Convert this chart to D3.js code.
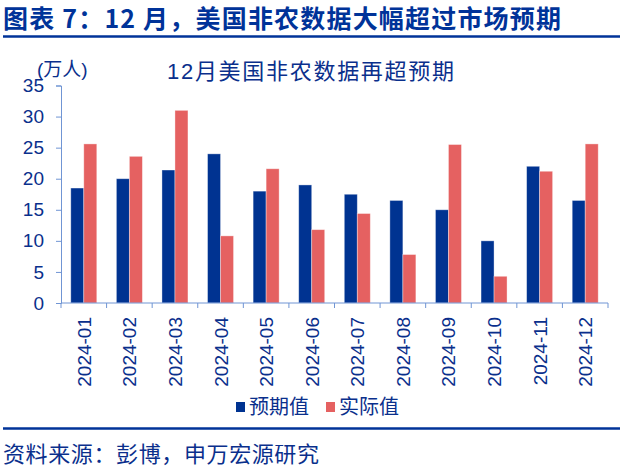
<!DOCTYPE html>
<html>
<head>
<meta charset="utf-8">
<script src="https://cdn.jsdelivr.net/npm/d3@7"></script>
<style>
  html, body { margin: 0; padding: 0; background: #fff; }
  svg { display: block; font-family: "Liberation Sans", "Noto Sans CJK SC", sans-serif; }
</style>
</head>
<body>
<svg id="chart"></svg>
<script>
// Data
const months = ["2024-01", "2024-02", "2024-03", "2024-04", "2024-05", "2024-06",
                "2024-07", "2024-08", "2024-09", "2024-10", "2024-11", "2024-12"];
const expected = [18.5, 20.0, 21.4, 24.0, 18.0, 19.0, 17.5, 16.5, 15.0, 10.0, 22.0, 16.5];
const actual = [25.6, 23.6, 31.0, 10.8, 21.6, 11.8, 14.4, 7.8, 25.5, 4.3, 21.2, 25.6];
const seriesNames = ["预期值", "实际值"];
const seriesColors = ["#003391", "#e56161"];
const yTicks = [0, 5, 10, 15, 20, 25, 30, 35];

const width = 620, height = 468;
const textBlue = "#0a2f8c";
const axisColor = "#7095d4";

const svg = d3.select("#chart")
  .attr("width", width)
  .attr("height", height);

// Header
svg.append("text")
  .attr("x", 3)
  .attr("y", 28)
  .attr("fill", "#003399")
  .attr("font-size", "25px")
  .attr("font-weight", "bold")
  .attr("font-family", "'Noto Sans CJK SC', 'Liberation Sans', sans-serif")
  .attr("textLength", 558)
  .attr("lengthAdjust", "spacing")
  .text("图表 7：12 月，美国非农数据大幅超过市场预期");

svg.append("line")
  .attr("x1", 3).attr("x2", width)
  .attr("y1", 36.5).attr("y2", 36.5)
  .attr("stroke", "#003399")
  .attr("stroke-width", 2.5);

// Scales
const x0 = d3.scaleBand()
  .domain(months)
  .range([61, 608]);

const groupW = 26;
const x1 = d3.scaleBand()
  .domain(seriesNames)
  .range([(x0.bandwidth() - groupW) / 2, (x0.bandwidth() + groupW) / 2]);

const y = d3.scaleLinear()
  .domain([0, 35])
  .range([303, 85.5]);

// Y axis
const yAxis = svg.append("g")
  .attr("transform", "translate(61,0)")
  .call(d3.axisLeft(y).tickValues(yTicks).tickSize(5).tickPadding(12));
yAxis.select(".domain").attr("stroke", axisColor);
yAxis.selectAll(".tick line").attr("stroke", axisColor);
yAxis.selectAll(".tick text")
  .attr("fill", textBlue)
  .attr("font-size", "19px")
  .attr("font-family", "'Liberation Sans', sans-serif");

// Bars
const data = months.map((m, i) => ({ month: m, values: [expected[i], actual[i]] }));

const groups = svg.append("g")
  .selectAll("g")
  .data(data)
  .join("g")
  .attr("transform", d => `translate(${x0(d.month)},0)`);

groups.selectAll("rect")
  .data(d => d.values.map((v, j) => ({ key: seriesNames[j], value: v, color: seriesColors[j] })))
  .join("rect")
  .attr("x", d => x1(d.key))
  .attr("y", d => y(d.value))
  .attr("width", x1.bandwidth())
  .attr("height", d => y(0) - y(d.value))
  .attr("fill", d => d.color)
  .attr("stroke", "#ffffff")
  .attr("stroke-opacity", 0.45)
  .attr("stroke-width", 0.8);

// X axis (ticks at band edges)
const xAxisG = svg.append("g");
xAxisG.append("line")
  .attr("x1", x0.range()[0]).attr("x2", x0.range()[1])
  .attr("y1", y(0)).attr("y2", y(0))
  .attr("stroke", axisColor);

const edges = months.map(m => x0(m)).concat([x0.range()[1]]);
xAxisG.selectAll(".xtick")
  .data(edges)
  .join("line")
  .attr("class", "xtick")
  .attr("x1", d => d).attr("x2", d => d)
  .attr("y1", y(0)).attr("y2", y(0) + 5)
  .attr("stroke", axisColor);

xAxisG.selectAll(".xlabel")
  .data(months)
  .join("text")
  .attr("class", "xlabel")
  .attr("transform", d => `translate(${x0(d) + x0.bandwidth() / 2 + 7},${y(0) + 14}) rotate(-90)`)
  .attr("text-anchor", "end")
  .attr("fill", textBlue)
  .attr("font-size", "19px")
  .attr("font-family", "'Liberation Sans', sans-serif")
  .text(d => d);

// Unit and chart title
svg.append("text")
  .attr("x", 37)
  .attr("y", 76)
  .attr("fill", textBlue)
  .attr("font-size", "19px")
  .text("(万人)");

svg.append("text")
  .attr("x", 167)
  .attr("y", 79)
  .attr("fill", textBlue)
  .attr("font-size", "22px")
  .attr("textLength", 287)
  .attr("lengthAdjust", "spacing")
  .text("12月美国非农数据再超预期");

// Legend
const legendItems = [
  { name: seriesNames[0], color: seriesColors[0], x: 236 },
  { name: seriesNames[1], color: seriesColors[1], x: 326 }
];
const legend = svg.append("g");
legend.selectAll("rect")
  .data(legendItems)
  .join("rect")
  .attr("x", d => d.x)
  .attr("y", 402)
  .attr("width", 9)
  .attr("height", 10)
  .attr("fill", d => d.color);
legend.selectAll("text")
  .data(legendItems)
  .join("text")
  .attr("x", d => d.x + 13)
  .attr("y", 414)
  .attr("fill", textBlue)
  .attr("font-size", "20px")
  .attr("textLength", 60)
  .attr("lengthAdjust", "spacing")
  .text(d => d.name);

// Footer
svg.append("line")
  .attr("x1", 3).attr("x2", width)
  .attr("y1", 428.5).attr("y2", 428.5)
  .attr("stroke", "#003399")
  .attr("stroke-width", 2.5);

svg.append("text")
  .attr("x", 3)
  .attr("y", 462)
  .attr("fill", textBlue)
  .attr("font-size", "22px")
  .attr("textLength", 316)
  .attr("lengthAdjust", "spacing")
  .text("资料来源：彭博，申万宏源研究");
</script>
</body>
</html>
